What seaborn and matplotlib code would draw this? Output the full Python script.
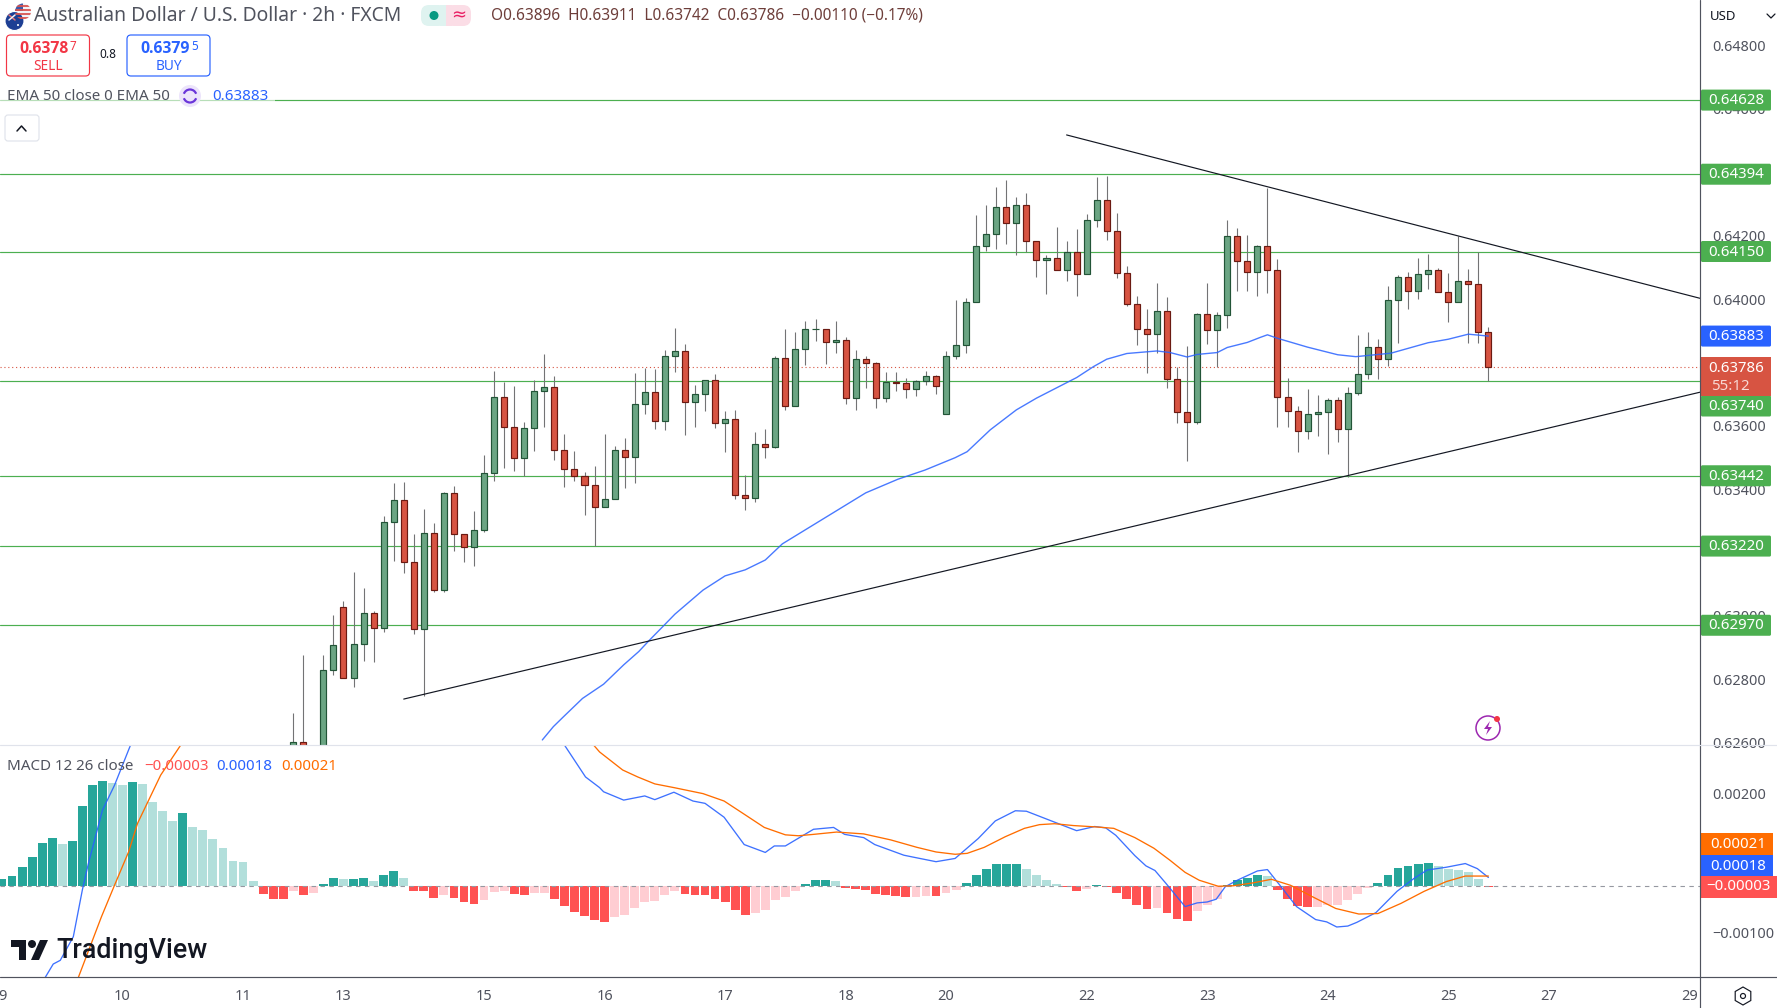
import numpy as np
import pandas as pd
import matplotlib
matplotlib.use("Agg")
import matplotlib.pyplot as plt
from matplotlib.patches import Rectangle, FancyBboxPatch, Circle, Polygon, RegularPolygon, Arc
import seaborn as sns

sns.set_theme(style="white")
plt.rcParams["font.family"] = ["Noto Sans", "DejaVu Sans"]

# candles in points (1e-5), bar 0 sits on the "9" tick, every value
first_bar = 29
opens = [62560, 62602, 62530, 62570, 62828, 63027, 62802, 62910, 63008, 62960,
         63295, 63365, 63169, 62957, 63260, 63080, 63387, 63257, 63216, 63270,
         63450, 63690, 63595, 63497, 63592, 63709, 63721, 63522, 63462, 63440,
         63412, 63342, 63368, 63522, 63500, 63668, 63706, 63614, 63819, 63835,
         63674, 63699, 63743, 63608, 63620, 63380, 63371, 63541, 63532, 63813,
         63661, 63841, 63904, 63905, 63864, 63870, 63687, 63810, 63797, 63687,
         63738, 63734, 63715, 63740, 63756, 63636, 63819, 63854, 63990, 64167,
         64205, 64290, 64239, 64296, 64182, 64122, 64129, 64091, 64148, 64078,
         64249, 64312, 64214, 64081, 63984, 63905, 63889, 63961, 63747, 63643,
         63611, 63952, 63901, 63949, 64198, 64119, 64085, 64167, 64091, 63690,
         63646, 63583, 63636, 63643, 63680, 63589, 63702, 63762, 63848, 63810,
         63996, 64069, 64025, 64078, 64091, 64021, 63990, 64056, 64047, 63895]
highs = [62692, 62876, 62585, 62876, 63002, 63047, 63137, 63088, 63015, 63315,
         63418, 63421, 63257, 63337, 63293, 63390, 63410, 63257, 63330, 63507,
         63772, 63738, 63726, 63611, 63743, 63826, 63756, 63573, 63519, 63453,
         63472, 63573, 63535, 63560, 63766, 63783, 63778, 63838, 63910, 63857,
         63728, 63743, 63762, 63646, 63649, 63444, 63579, 63589, 63819, 63906,
         63895, 63930, 63937, 63905, 63930, 63879, 63838, 63819, 63800, 63769,
         63769, 63750, 63744, 63772, 63759, 63835, 63996, 64002, 64265, 64296,
         64353, 64375, 64321, 64334, 64182, 64138, 64227, 64182, 64220, 64268,
         64385, 64388, 64271, 64104, 64009, 63968, 64050, 64006, 63785, 63851,
         63955, 64050, 63958, 64249, 64223, 64201, 64170, 64350, 64126, 63750,
         63661, 63715, 63696, 63687, 63690, 63721, 63886, 63895, 63873, 64040,
         64075, 64085, 64129, 64141, 64097, 64081, 64198, 64094, 64150, 63911]
lows = [62540, 62540, 62500, 62550, 62813, 62802, 62776, 62858, 62855, 62950,
        63174, 63136, 62944, 62748, 63076, 63076, 63203, 63171, 63158, 63263,
        63427, 63468, 63458, 63441, 63521, 63597, 63493, 63408, 63427, 63319,
        63219, 63342, 63368, 63404, 63420, 63638, 63591, 63585, 63771, 63572,
        63597, 63648, 63594, 63518, 63370, 63335, 63360, 63499, 63529, 63651,
        63661, 63793, 63869, 63796, 63831, 63670, 63651, 63720, 63657, 63676,
        63711, 63686, 63695, 63727, 63701, 63636, 63810, 63831, 63990, 64151,
        64159, 64175, 64140, 64147, 64071, 64017, 64091, 64058, 64011, 64078,
        64226, 64185, 64065, 63979, 63856, 63768, 63831, 63720, 63610, 63490,
        63605, 63859, 63785, 63907, 64024, 64024, 64011, 64020, 63597, 63597,
        63518, 63557, 63566, 63512, 63550, 63437, 63698, 63749, 63746, 63787,
        63862, 63970, 64001, 64033, 64021, 63926, 63990, 63860, 63862, 63742]
closes = [62602, 62560, 62570, 62828, 62907, 62802, 62910, 63008, 62960, 63295,
          63365, 63169, 62957, 63260, 63080, 63387, 63257, 63216, 63270, 63450,
          63690, 63595, 63497, 63592, 63709, 63721, 63522, 63462, 63440, 63412,
          63342, 63368, 63522, 63500, 63668, 63706, 63614, 63819, 63835, 63674,
          63699, 63743, 63608, 63620, 63380, 63371, 63541, 63532, 63813, 63661,
          63841, 63905, 63905, 63864, 63870, 63687, 63810, 63797, 63687, 63737,
          63736, 63715, 63740, 63756, 63725, 63819, 63854, 63990, 64167, 64205,
          64290, 64239, 64296, 64182, 64122, 64129, 64091, 64148, 64078, 64249,
          64312, 64214, 64081, 63984, 63905, 63889, 63961, 63747, 63643, 63611,
          63952, 63901, 63949, 64198, 64119, 64085, 64167, 64091, 63690, 63646,
          63583, 63636, 63643, 63680, 63589, 63702, 63762, 63848, 63810, 63996,
          64069, 64025, 64078, 64091, 64021, 63990, 64056, 64047, 63895, 63786]

ema_bar = [53.8, 54.9, 55.9, 57.8, 59.9, 61.9, 63.4, 64.5, 65.8, 67, 69.8, 72, 74, 76, 77.7,
           81, 86, 89.2, 91.9, 94.9, 96.1, 98.4, 101, 103, 107, 108.7, 110, 112, 115, 116.3,
           118, 119, 121, 122, 124, 125.3, 126, 127, 130, 133, 134.8, 138.3, 142, 144, 146, 148]
ema_val = [62608, 62650, 62681, 62739, 62784, 62845, 62887, 62924, 62966, 63005, 63081, 63126,
           63145, 63176, 63227, 63291, 63388, 63431, 63460, 63499, 63518, 63587, 63650, 63687,
           63752, 63787, 63810, 63828, 63836, 63831, 63817, 63825, 63831, 63847, 63863, 63879,
           63887, 63876, 63848, 63824, 63818, 63829, 63862, 63873, 63889, 63883]

levels = [64628, 64394, 64150, 63740, 63442, 63220, 62970]
last_price = 63786
upper_trend_bar = [106, 169.1]
upper_trend_val = [64518, 64002]
lower_trend_bar = [40, 169.1]
lower_trend_val = [62737, 63706]

# MACD panel, same 1e-5 units
hist_val = [14, 21, 40, 62, 92, 103, 90, 96, 172, 217,
            226, 222, 217, 224, 220, 181, 161, 140, 157, 127,
            120, 101, 81, 53, 51, 10, -18, -29, -29, -12,
            -20, -16, 4, 17, 14, 14, 17, 10, 23, 32,
            17, -12, -12, -27, -20, -27, -35, -40, -31, -14,
            -12, -18, -20, -16, -16, -29, -44, -57, -66, -74,
            -78, -68, -63, -48, -35, -33, -20, -12, -18, -20,
            -20, -29, -35, -53, -63, -59, -53, -31, -24, -12,
            4, 12, 12, 10, -5, -7, -9, -18, -20, -22,
            -24, -24, -22, -22, -16, -9, 6, 23, 36, 47,
            47, 47, 36, 23, 12, 4, -3, -12, -7, 1,
            -3, -16, -29, -42, -50, -48, -59, -72, -76, -55,
            -42, -29, 1, 12, 17, 23, 21, -9, -29, -44,
            -46, -46, -42, -42, -31, -18, -5, 6, 23, 38,
            42, 47, 49, 42, 36, 34, 29, 14, -3]
hist_kind = list("DDDDDDLDDD" "DLLDLLLLDL" "LLLLLLRRRP" "RPDDLDDLDD" "LRRRPRRRPP"
                 "PRRPPRRRRR" "RPPPPPPPRR" "RRRRRPPPPP" "DDDLRRRRRR" "RPPRPPDDDD"
                 "DDLLLLRRPD" "RRRRRPRRRP" "PPDDDDLRRR" "RPPPPPPDDD" "DDDLLLLLR")

macd_bar = [4.3, 5.1, 5.8, 7.1, 8, 8.6, 10, 11.2, 12.8, 14, 30, 45, 52, 53.5, 54.5, 56, 58.1, 59.5,
            59.9, 61.9, 64, 65, 66.9, 68.8, 70, 71.9, 73.9, 76, 76.9, 78, 80.8, 82.8, 83.9, 85.8,
            86.9, 89.8, 90.7, 93, 94.9, 97.2, 98.9, 100.9, 102, 103.9, 105.8, 107, 108.8, 109.9,
            110.9, 112.8, 113.9, 114.8, 115.9, 117.8, 119, 120, 120.9, 121.8, 123, 125, 126, 127.5,
            128.9, 130.8, 131.9, 132.9, 134, 134.9, 136.8, 138.9, 140.6, 141.9, 143.8, 145.7,
            146.9, 148]
macd_val = [-198, -169, -161, -110, -9, 48, 163, 217, 304, 345, 460, 440, 330, 304, 330, 304, 235, 212,
            203, 185, 194, 186, 202, 183, 178, 148, 89, 72, 86, 86, 122, 126, 111, 104,
            89, 66, 62, 52, 59, 102, 140, 162, 161, 145, 129, 119, 128, 125,
            109, 65, 43, 33, 5, -45, -37, -35, -29, -2, 12, 32, 35, -6,
            -45, -73, -78, -89, -87, -79, -58, -12, 16, 34, 40, 48,
            37, 18]
signal_bar = [6.5, 7.6, 9.9, 11.2, 12.6, 13.5, 15.8, 17.8, 20, 40, 55, 58.9,
              59.5, 61.8, 63.3, 65, 66.9, 69.8, 71.9, 73.8, 75.9, 78, 79.3, 80.8, 83.1, 85.8,
              88.5, 91.1, 93, 94.9, 96.1, 97.8, 99.9, 101.8, 103.3, 104.8, 106.7, 109, 110.7,
              112.8, 114.7, 116.3, 117.8, 119.2, 121.1, 122.6, 124.5, 126.4, 128.3, 130.6,
              132.8, 135.1, 137, 139.3, 141.6, 143.8, 145.7, 148]
signal_val = [-270, -198, -67, 1, 73, 135, 239, 304, 360, 520, 350, 304,
              289, 250, 235, 220, 212, 199, 183, 156, 126, 110, 108, 111, 116, 112,
              99, 83, 73, 68, 70, 83, 106, 124, 132, 134, 130, 127, 124,
              104, 81, 55, 29, 12, -1, 0, 6, 14, 1, -25,
              -49, -61, -60, -38, -12, 9, 21, 21]

x_tick_bars = [0, 12, 24, 34, 48, 60, 72, 84, 94, 108, 120, 132, 144, 154, 168]
x_tick_labels = ["9", "10", "11", "13", "15", "16", "17", "18", "20", "22", "23", "24", "25", "27", "29"]
# 0.644, 0.638 and 0.632 sit fully behind the price boxes
price_ticks = [0.648, 0.646, 0.642, 0.640, 0.636, 0.634, 0.630, 0.628, 0.626]
macd_ticks = [0.002, -0.001]
macd_tick_labels = ["0.00200", "\u22120.00100"]

GREEN_BODY, GREEN_EDGE = "#6ba583", "#225437"
RED_BODY, RED_EDGE = "#d75442", "#6b1a12"
WICK = "#737375"
LEVEL = "#4caf50"
BLUE = "#2962ff"
ORANGE = "#ff6d00"
TEXT = "#50535e"
hist_colors = {"D": "#26a69a", "L": "#b2dfdb", "R": "#ff5252", "P": "#ffcdd2"}

W, H = 1777, 1008
fig = plt.figure(figsize=(W / 100, H / 100), dpi=100, facecolor="white")
# px boxes: chart area ends at x=1700, price pane 0..745, macd pane 745..977
ax = fig.add_axes([0, (H - 745) / H, 1700 / W, 745 / H])
ax2 = fig.add_axes([0, (H - 977) / H, 1700 / W, 232 / H])

bars = np.arange(first_bar, first_bar + len(opens))
o = np.array(opens) / 1e5
h = np.array(highs) / 1e5
l = np.array(lows) / 1e5
c = np.array(closes) / 1e5
up = c >= o

for lev in levels:
    ax.axhline(lev / 1e5, color=LEVEL, lw=0.85, zorder=1)
ax.axhline(last_price / 1e5, color="#d75442", lw=0.8, ls=(0, (1, 2.5)), zorder=1)

ax.vlines(bars, l, h, color=WICK, lw=0.8, zorder=2)
ax.bar(bars, np.abs(c - o), bottom=np.minimum(o, c), width=0.6,
       color=[GREEN_BODY if u else RED_BODY for u in up],
       edgecolor=[GREEN_EDGE if u else RED_EDGE for u in up], linewidth=0.85, zorder=3)

ema_df = pd.DataFrame({"bar": ema_bar, "val": np.array(ema_val) / 1e5})
sns.lineplot(data=ema_df, x="bar", y="val", ax=ax, color=BLUE, lw=1.0, alpha=0.85, errorbar=None, zorder=4)
ax.plot(upper_trend_bar, np.array(upper_trend_val) / 1e5, color="#131722", lw=0.85, zorder=5)
ax.plot(lower_trend_bar, np.array(lower_trend_val) / 1e5, color="#131722", lw=0.85, zorder=5)

ax.set_xlim(-0.2, 169.07)
ax.set_ylim(0.62592, 0.64944)
ax.set_xticks([])
ax.yaxis.tick_right()
ax.set_yticks(price_ticks)
ax.set_yticklabels([f"{t:.5f}" for t in price_ticks])
ax.tick_params(axis="y", length=0, pad=9, labelsize=10.4, labelcolor=TEXT)
ax.set_xlabel("")
ax.set_ylabel("")

hist_df = pd.DataFrame({"bar": np.arange(len(hist_val)), "val": np.array(hist_val) / 1e5, "kind": hist_kind})
sns.barplot(data=hist_df, x="bar", y="val", hue="kind", palette=hist_colors, native_scale=True,
            dodge=False, width=0.88, saturation=1, legend=False, ax=ax2, linewidth=0, zorder=2)
ax2.axhline(0, color="#9598a1", lw=0.8, ls=(0, (4, 4)), zorder=3)
macd_df = pd.DataFrame({"bar": macd_bar, "val": np.array(macd_val) / 1e5})
signal_df = pd.DataFrame({"bar": signal_bar, "val": np.array(signal_val) / 1e5})
sns.lineplot(data=macd_df, x="bar", y="val", ax=ax2, color=BLUE, lw=0.95, alpha=0.9, errorbar=None, zorder=4)
sns.lineplot(data=signal_df, x="bar", y="val", ax=ax2, color=ORANGE, lw=0.95, errorbar=None, zorder=5)

ax2.set_xlim(-0.2, 169.07)
ax2.set_ylim(-0.00197, 0.00304)
ax2.set_xticks(x_tick_bars)
ax2.set_xticklabels(x_tick_labels, weight="medium")
ax2.yaxis.tick_right()
ax2.set_yticks(macd_ticks)
ax2.set_yticklabels(macd_tick_labels)
ax2.tick_params(axis="y", length=0, pad=9, labelsize=10.4, labelcolor=TEXT)
ax2.tick_params(axis="x", length=0, pad=9, labelsize=10.5, labelcolor=TEXT)
ax2.set_xlabel("")
ax2.set_ylabel("")

for a in (ax, ax2):
    for s in a.spines.values():
        s.set_visible(False)
    a.grid(False)

# overlay in pixel coords for the chart furniture
ui = fig.add_axes([0, 0, 1, 1], zorder=10)
ui.set_xlim(0, W)
ui.set_ylim(H, 0)
ui.axis("off")
ui.patch.set_alpha(0)

ui.plot([1700, 1700], [0, H], color=TEXT, lw=0.85)
ui.plot([0, W], [976.5, 976.5], color=TEXT, lw=0.85)
ui.plot([0, W], [745, 745], color="#e0e3eb", lw=0.85)


def px_y(axis, value):
    return H - axis.transData.transform((0, value))[1]


def price_box(y, text, color):
    ui.add_patch(FancyBboxPatch((1701, y - 10.5), 70, 21, boxstyle="round,pad=0,rounding_size=1.5",
                                fc=color, ec="none"))
    ui.text(1736, y + 0.5, text, color="white", fontsize=10.8, ha="center", va="center", weight="medium")


for lev, txt in [(64628, "0.64628"), (64394, "0.64394"), (64150, "0.64150"),
                 (63442, "0.63442"), (63220, "0.63220"), (62970, "0.62970")]:
    price_box(px_y(ax, lev / 1e5), txt, LEVEL)
price_box(px_y(ax, 0.63883), "0.63883", BLUE)
price_box(406, "0.63740", LEVEL)
ui.add_patch(Rectangle((1701, 357), 70, 39, fc="#d75442", ec="none"))
ui.text(1736, 368.5, "0.63786", color="white", fontsize=10.8, ha="center", va="center", weight="medium")
ui.text(1711, 386, "55:12", color="#f8d9d4", fontsize=10.8, ha="left", va="center")
for y_, txt, col in [(844, "0.00021", ORANGE), (866, "0.00018", BLUE), (887, "\u22120.00003", "#ff5252")]:
    ui.add_patch(Rectangle((1701, y_ - 11), 72 if col != "#ff5252" else 76, 22, fc=col, ec="none"))
    ui.text(1738, y_, txt, color="white", fontsize=10.8, ha="center", va="center", weight="medium")

ui.text(1723, 16, "USD", color="#131722", fontsize=9.5, ha="center", va="center")
ui.plot([1767, 1771, 1775], [14, 18, 14], color="#131722", lw=0.9)

# flags
us = Circle((23, 11.5), 8, fc="#f2f2f6", ec="none")
ui.add_patch(us)
for yy in (6, 10, 14, 18):
    ln, = ui.plot([14, 32], [yy, yy], color="#d9534f", lw=1.3)
    ln.set_clip_path(us)
canton = Rectangle((15, 3), 8, 8, fc="#3b5ba9", ec="none")
ui.add_patch(canton)
canton.set_clip_path(us)
ui.add_patch(Circle((14.5, 21), 9.5, fc="#1d3f94", ec="white", lw=0.8))
ui.plot([9, 15], [15, 20], color="#e57373", lw=1.1)
ui.plot([15, 9], [15, 20], color="#f2f2f6", lw=1.1)
ui.add_patch(Circle((18, 25), 1, fc="white", ec="none"))

ui.text(34, 16, "Australian Dollar / U.S. Dollar \u00b7 2h \u00b7 FXCM", color=TEXT, fontsize=13.9, ha="left", va="center")
ui.add_patch(FancyBboxPatch((421, 5), 25, 21, boxstyle="round,pad=0,rounding_size=8", fc="#dff3f0", ec="none"))
ui.add_patch(FancyBboxPatch((446, 5), 25, 21, boxstyle="round,pad=0,rounding_size=8", fc="#fbdde6", ec="none"))
ui.add_patch(Rectangle((440, 5), 6, 21, fc="#dff3f0", ec="none"))
ui.add_patch(Rectangle((446, 5), 6, 21, fc="#fbdde6", ec="none"))
ui.add_patch(Circle((434, 15.5), 4.5, fc="#089981", ec="none"))
ui.text(459, 15, "\u2248", color="#e91e63", fontsize=13, ha="center", va="center", family=["DejaVu Sans"])
ui.text(491, 16, "O0.63896  H0.63911  L0.63742  C0.63786  \u22120.00110 (\u22120.17%)", color="#6e3e3a",
        fontsize=11.1, ha="left", va="center")

ui.add_patch(FancyBboxPatch((6.5, 35), 83, 41, boxstyle="round,pad=0,rounding_size=4", fc="white", ec="#f23645", lw=0.85))
ui.add_patch(FancyBboxPatch((127, 35), 83, 41, boxstyle="round,pad=0,rounding_size=4", fc="white", ec=BLUE, lw=0.85))
ui.text(69, 49, "0.6378", color="#f23645", fontsize=11.3, weight="bold", ha="right", va="center", family=["Open Sans", "DejaVu Sans"])
ui.text(70, 46, "7", color="#f23645", fontsize=8.5, ha="left", va="center")
ui.text(48, 66, "SELL", color="#f23645", fontsize=9.8, ha="center", va="center")
ui.text(190, 49, "0.6379", color=BLUE, fontsize=11.3, weight="bold", ha="right", va="center", family=["Open Sans", "DejaVu Sans"])
ui.text(191, 46, "5", color=BLUE, fontsize=8.5, ha="left", va="center")
ui.text(169, 66, "BUY", color=BLUE, fontsize=9.8, ha="center", va="center")
ui.text(108, 54, "0.8", color="#131722", fontsize=8.5, ha="center", va="center")

ui.add_patch(Rectangle((0, 88), 275, 17, fc="white", ec="none", alpha=0.6))
ui.text(7, 97, "EMA 50 close 0 EMA 50", color=TEXT, fontsize=10.9, ha="left", va="center")
ui.add_patch(Circle((190, 96), 11, fc="#ece4fb", ec="none"))
ui.add_patch(Arc((190, 96), 13, 13, theta1=20, theta2=160, color="#6a35d9", lw=1.6))
ui.add_patch(Arc((190, 96), 13, 13, theta1=200, theta2=340, color="#6a35d9", lw=1.6))
ui.text(212, 97, "0.63883", color=BLUE, fontsize=10.9, ha="left", va="center")

ui.add_patch(FancyBboxPatch((5, 115), 34, 26, boxstyle="round,pad=0,rounding_size=3", fc="white", ec="#e0e3eb", lw=0.85))
ui.plot([17, 21.5, 26], [131, 126, 131], color="#131722", lw=1.1)

ui.add_patch(Circle((1488, 728), 12, fc="white", ec="#9c27b0", lw=1.1))
ui.add_patch(Polygon([(1490, 721), (1484, 729), (1488, 729), (1486, 735), (1492, 727), (1488, 727)],
                     closed=True, fc="#9c27b0", ec="none"))
ui.add_patch(Circle((1497, 719), 3, fc="#f23645", ec="none"))

ui.text(7, 767, "MACD 12 26 close", color=TEXT, fontsize=10.9, ha="left", va="center")
ui.text(144, 767, "\u22120.00003", color="#ff5252", fontsize=10.9, ha="left", va="center")
ui.text(216, 767, "0.00018", color=BLUE, fontsize=10.9, ha="left", va="center")
ui.text(281, 767, "0.00021", color=ORANGE, fontsize=10.9, ha="left", va="center")

# TradingView logo
ui.add_patch(Polygon([(11, 940), (26, 940), (26, 960), (19, 960), (19, 947), (11, 947)], closed=True, fc="#131722", ec="none"))
ui.add_patch(Circle((32, 944), 4, fc="#131722", ec="none"))
ui.add_patch(Polygon([(40, 940), (48, 940), (39, 960), (31, 960)], closed=True, fc="#131722", ec="none"))
ui.text(56, 951, "TradingView", color="#131722", fontsize=19.4, weight="medium", ha="left", va="center", family=["Roboto", "DejaVu Sans"])

ui.add_patch(RegularPolygon((1743, 996), 6, radius=9, orientation=0, fc="white", ec="#131722", lw=0.85))
ui.add_patch(Circle((1743, 996), 2.5, fc="white", ec="#131722", lw=0.85))

fig.savefig("out.png", dpi=100)
